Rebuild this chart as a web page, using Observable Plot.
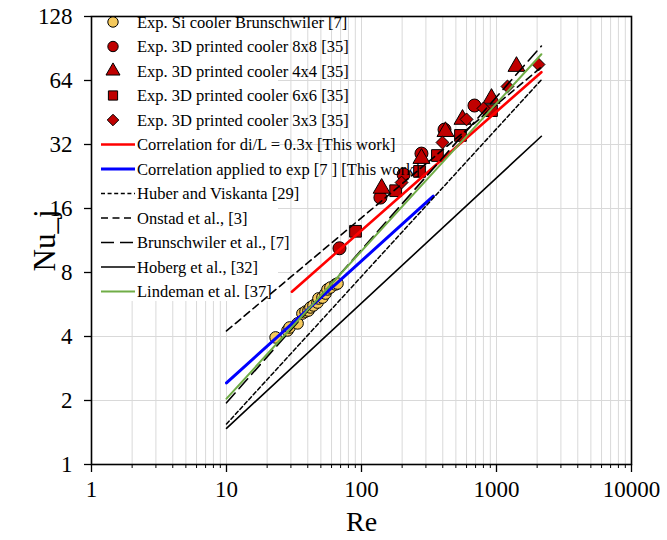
<!DOCTYPE html>
<html><head><meta charset="utf-8">
<script src="https://cdn.jsdelivr.net/npm/d3@7"></script>
<script src="https://cdn.jsdelivr.net/npm/@observablehq/plot@0.6"></script>
<style>
body{margin:0;background:#fff;}
#wrap{position:relative;width:667px;height:540px;}
</style></head><body><div id="wrap"></div>
<script>
// ---- tick values ----
const xMajor = [1, 10, 100, 1000, 10000];
const xMinor = [2,3,4,5,6,7,8,9,20,30,40,50,60,70,80,90,200,300,400,500,600,700,800,900,2000,3000,4000,5000,6000,7000,8000,9000];
const yTicks = [1, 2, 4, 8, 16, 32, 64, 128];

// ---- experimental data ----
const siRe = [23.1, 28.3, 29.3, 33.6, 36.5, 38.5, 40.5, 41.9, 44.1, 47.2, 48.0, 51.4, 54.1, 56.0, 58.9, 64.2, 66.4];
const siNu = [3.96, 4.27, 4.41, 4.61, 5.13, 5.24, 5.30, 5.48, 5.60, 5.78, 6.04, 6.10, 6.37, 6.66, 6.80, 7.03, 7.10];

const c8Re = [68.7, 138, 205, 278, 412, 687];
const c8Nu = [10.4, 18.0, 23.1, 29.0, 37.6, 48.8];
const c4Re = [141, 278, 419, 560, 918, 1406];
const c4Nu = [19.9, 27.5, 36.8, 42.0, 52.7, 74.5];
const c6Re = [90.3, 179, 269, 365, 541, 918];
const c6Nu = [12.5, 19.4, 23.9, 28.4, 35.3, 46.2];
const c3Re = [198, 398, 600, 801, 1206, 2047];
const c3Nu = [21.2, 32.7, 42.0, 47.3, 60.0, 76.1];

// ---- correlation lines (end points) ----
const corrRe = [30.5, 2150], corrNu = [6.5, 70];
const applRe = [10, 340], applNu = [2.42, 18.3];
const huberRe = [10, 2150], huberNu = [1.55, 64.5];
const onstadRe = [10, 2150], onstadNu = [4.25, 74];
const brunRe = [10, 2150], brunNu = [1.95, 93];
const hobergRe = [10, 2150], hobergNu = [1.48, 35];
const lindRe = [10, 2150], lindNu = [2.04, 85];

const legendLabels = [
  "Exp. Si cooler Brunschwiler [7]",
  "Exp. 3D printed cooler 8x8 [35]",
  "Exp. 3D printed cooler 4x4 [35]",
  "Exp. 3D printed cooler 6x6 [35]",
  "Exp. 3D printed cooler 3x3 [35]",
  "Correlation for di/L = 0.3x [This work]",
  "Correlation applied to exp [7 ] [This work]",
  "Huber and Viskanta [29]",
  "Onstad et al., [3]",
  "Brunschwiler et al., [7]",
  "Hoberg et al., [32]",
  "Lindeman et al. [37]"
];

const zip = (a, b) => a.map((v, i) => ({re: v, nu: b[i]}));
const FONT = "Liberation Serif, Times New Roman, serif";
const YEL = "#f5c95c", DRED = "#c00000";

const styles = [
  {kind: "dot", symbol: "circle", fill: YEL, r: 5.8, data: zip(siRe, siNu)},
  {kind: "dot", symbol: "circle", fill: DRED, r: 6.5, data: zip(c8Re, c8Nu)},
  {kind: "dot", symbol: "triangle", fill: DRED, r: 6.3, data: zip(c4Re, c4Nu)},
  {kind: "dot", symbol: "square", fill: DRED, r: 6.6, data: zip(c6Re, c6Nu)},
  {kind: "dot", symbol: "diamond2", fill: DRED, r: 5.8, data: zip(c3Re, c3Nu)},
  {kind: "line", stroke: "#ff0000", w: 2.6, dash: null, data: zip(corrRe, corrNu)},
  {kind: "line", stroke: "#0000ff", w: 3, dash: null, data: zip(applRe, applNu)},
  {kind: "line", stroke: "#000", w: 1.5, dash: "4,2.6", data: zip(huberRe, huberNu)},
  {kind: "line", stroke: "#000", w: 1.6, dash: "7,4.5", data: zip(onstadRe, onstadNu)},
  {kind: "line", stroke: "#000", w: 1.6, dash: "13,6", data: zip(brunRe, brunNu)},
  {kind: "line", stroke: "#000", w: 1.6, dash: null, data: zip(hobergRe, hobergNu)},
  {kind: "line", stroke: "#70ad47", w: 2, dash: null, data: zip(lindRe, lindNu)}
];

const dotMarks = styles.filter(s => s.kind === "dot").map(s =>
  Plot.dot(s.data, {x: "re", y: "nu", symbol: () => s.symbol, r: s.r, fill: s.fill, stroke: "#000", strokeWidth: 1})
);
const lineMarks = styles.filter(s => s.kind === "line").map(s =>
  Plot.line(s.data, {x: "re", y: "nu", stroke: s.stroke, strokeWidth: s.w, strokeDasharray: s.dash || undefined})
);

const plot = Plot.plot({
  width: 667, height: 540,
  marginLeft: 91, marginRight: 36, marginTop: 16, marginBottom: 76,
  style: {fontFamily: FONT, background: "white", color: "black"},
  x: {type: "log", domain: [1, 10000]},
  y: {type: "log", base: 2, domain: [1, 128]},
  symbol: {type: "identity"},
  marks: [
    Plot.ruleX(xMajor.concat(xMinor), {stroke: "#d9d9d9", strokeWidth: 1}),
    Plot.ruleY(yTicks, {stroke: "#d9d9d9", strokeWidth: 1}),
    ...dotMarks,
    ...lineMarks,
    Plot.axisX(xMinor, {tickSize: 4, tickFormat: () => "", label: null, strokeWidth: 1}),
    Plot.axisX(xMajor, {tickSize: 8, tickPadding: 8, tickFormat: d => String(d), fontSize: 23, fontFamily: FONT, label: null, strokeWidth: 1.3}),
    Plot.axisY(yTicks, {tickSize: 7, tickPadding: 12, tickFormat: d => String(d), fontSize: 23, fontFamily: FONT, label: null, strokeWidth: 1.3}),
    Plot.frame({stroke: "#000", strokeWidth: 1.6}),
    Plot.text(["Re"], {frameAnchor: "bottom", lineAnchor: "middle", textAnchor: "middle", dy: 58, fontSize: 28, fontFamily: FONT, fill: "#000"}),
    Plot.text(["Nu_j"], {frameAnchor: "left", lineAnchor: "middle", textAnchor: "middle", dx: -46, rotate: -90, fontSize: 31, fontFamily: FONT, fill: "#000"})
  ]
});

document.getElementById("wrap").appendChild(plot);

// ---- legend (inside plot area, top-left) ----
const svg = d3.select(plot);
// white legend box sits above the grid but below the data series
const firstDataG = plot.children[3];
const box = document.createElementNS("http://www.w3.org/2000/svg", "rect");
plot.insertBefore(box, firstDataG);
d3.select(box).attr("x", 92).attr("y", 17).attr("width", 186).attr("height", 284).attr("fill", "white");

const lg = svg.append("g").attr("font-family", FONT).attr("font-size", 16.5).attr("text-anchor", "start");
const row0 = 22, rowH = 24.5, symX0 = 101, symX1 = 135, symCx = 113, textX = 137;
styles.forEach((s, i) => {
  const y = row0 + i * rowH;
  if (s.kind === "dot") {
    const sym = {circle: d3.symbolCircle, triangle: d3.symbolTriangle, square: d3.symbolSquare, diamond2: d3.symbolDiamond2}[s.symbol];
    lg.append("path")
      .attr("transform", `translate(${symCx},${y})`)
      .attr("d", d3.symbol(sym, Math.PI * 5.2 * 5.2)())
      .attr("fill", s.fill).attr("stroke", "#000").attr("stroke-width", 1);
  } else {
    lg.append("line").attr("x1", symX0).attr("x2", symX1).attr("y1", y).attr("y2", y)
      .attr("stroke", s.stroke).attr("stroke-width", s.w)
      .attr("stroke-dasharray", s.dash);
  }
  lg.append("text").attr("x", textX).attr("y", y).attr("dy", "0.35em")
    .attr("text-anchor", "start").attr("fill", "#000").text(legendLabels[i]);
});
</script>
</body></html>
